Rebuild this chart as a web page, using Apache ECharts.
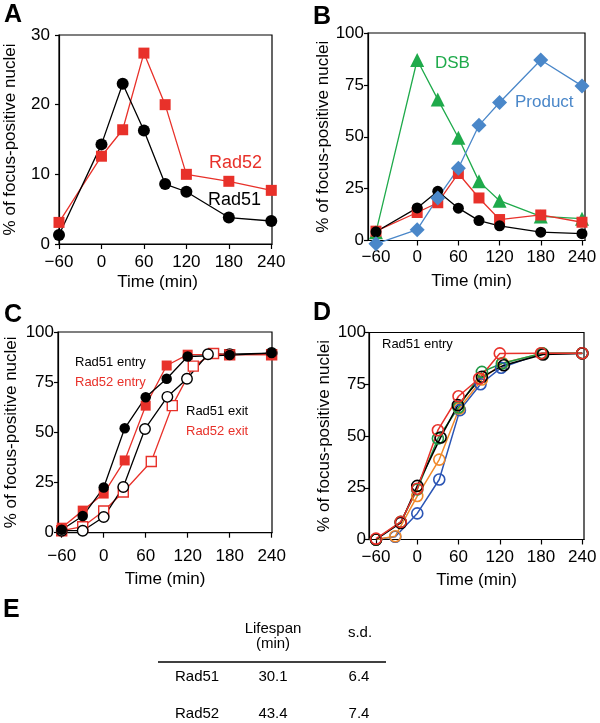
<!DOCTYPE html>
<html><head><meta charset="utf-8">
<script src="https://cdn.jsdelivr.net/npm/echarts@6/dist/echarts.min.js"></script>
<style>html,body{margin:0;padding:0;background:#fff}#c{width:600px;height:723px}</style>
</head><body><div id="c"></div>
<script>
// ---------- data ----------
const timeTicks = [-60, 0, 60, 120, 180, 240];
const ticksA = [0, 10, 20, 30];
const ticks100 = [0, 25, 50, 75, 100];

// Panel A
const timesA = [-60, 0, 30, 60, 90, 120, 180, 240];
const rad51A = [1.3, 14.3, 23.0, 16.3, 8.6, 7.5, 3.8, 3.3];
const rad52A = [3.1, 12.6, 16.4, 27.4, 20.0, 10.0, 9.0, 7.7];

// Panel B
const timesB = [-60, 0, 30, 60, 90, 120, 180, 240];
const dsbB = [4, 87, 68, 49.5, 28.5, 19.2, 11.6, 10.5];
const productB = [-1.6, 5.2, 20.5, 34.8, 55.5, 66.5, 87, 74.5];
const rad52B = [4.5, 13.5, 18.2, 32.3, 20.5, 10.1, 12.3, 8.8];
const rad51B = [4.2, 15.7, 23.7, 15.6, 9.6, 7.1, 4, 3.3];

// Panel C
const timesC = [-60, -30, 0, 30, 60, 90, 120, 180, 240];
const rad51EntryC = [1.5, 8.3, 22.5, 52, 67.5, 76.7, 87.8, 88.5, 89.5];
const rad52EntryC = [2.5, 11, 19.5, 36, 63.3, 83.3, 88.7, 88.7, 88.7];
const timesRad51ExitC = [-60, -30, 0, 28, 59, 91, 119, 149, 180, 240];
const rad51ExitC = [1, 1, 7.8, 22.8, 51.7, 67.7, 76.7, 88.9, 89, 89.5];
const timesRad52ExitC = [-60, -30, 0, 28, 68, 98, 128, 157, 180, 240];
const rad52ExitC = [1, 3, 10.8, 20.3, 35.5, 63.3, 83, 89.3, 88.7, 88.7];

// Panel D (Rad51 entry, five experiments)
const timesDBlack = [-60, -24, 0, 34, 59, 94, 126, 183, 240];
const dBlack = [0, 8, 25.9, 49.3, 64.9, 78.6, 84.2, 89.4, 89.9];
const timesDRed = [-60, -24, 0, 30, 60, 90, 120, 180, 240];
const dRed = [0.4, 8.5, 24.5, 52.8, 69.2, 77.8, 89.9, 90, 90];
const timesDGreen = [-60, -24, 0, 30, 60, 94, 123, 182, 240];
const dGreen = [0, 8.5, 24.2, 48.8, 63.8, 81, 85, 90, 90];
const timesDOrange = [-60, -32, 0, 32, 61, 94, 124, 182, 240];
const dOrange = [0, 1.6, 21, 38.6, 63.3, 77.3, 85.3, 89.9, 90];
const timesDBlue = [-60, -32, 0, 32, 62, 92, 122, 181, 240];
const dBlue = [0, 1.3, 12.6, 29, 62.5, 75, 83, 89.9, 90];

// Panel E table
const tableHeader = ['Lifespan\n(min)', 's.d.'];
const tableRows = ['Rad51', 'Rad52'];
const lifespan = ['30.1', '43.4'];
const sdValues = ['6.4', '7.4'];

// ---------- style ----------
const FONT = '"Liberation Sans", Arial, Helvetica, sans-serif';
const RED = '#e8312a', BLACK = '#000000', GREEN = '#1faa4b', BLUE = '#4a87c9';
const D_GREEN = '#1f9a46', D_ORANGE = '#f0892a', D_BLUE = '#2b55b5';

const zip = (xs, ys) => xs.map((x, i) => [x, ys[i]]);
const fmtTime = v => (v < 0 ? '\u2212' + Math.abs(v) : String(v));

function xAxis(gi, min, max, labelMargin, nameGap, namePadRight) {
  return {
    type: 'value', gridIndex: gi, min, max,
    splitLine: {show: false},
    axisLine: {show: true, onZero: false, lineStyle: {color: '#000', width: 1.2}},
    axisTick: {show: true, customValues: timeTicks, length: 5, lineStyle: {color: '#000', width: 1.2}},
    axisLabel: {customValues: timeTicks, formatter: fmtTime, color: '#000', fontSize: 17, fontFamily: FONT, margin: labelMargin},
    name: 'Time (min)', nameLocation: 'middle', nameGap,
    nameTextStyle: {color: '#000', fontSize: 17, fontFamily: FONT, padding: [0, namePadRight, 0, 0]}
  };
}
function yAxis(gi, max, interval, labelMargin, nameGap) {
  return {
    type: 'value', gridIndex: gi, min: 0, max, interval,
    splitLine: {show: false},
    axisLine: {show: true, onZero: false, lineStyle: {color: '#000', width: 1.2}},
    axisTick: {show: true, length: 4, lineStyle: {color: '#000', width: 1.2}},
    axisLabel: {color: '#000', fontSize: 17, fontFamily: FONT, margin: labelMargin},
    name: '% of focus-positive nuclei', nameLocation: 'middle', nameRotate: 90, nameGap,
    nameTextStyle: {color: '#000', fontSize: 17, fontFamily: FONT}
  };
}
function line(gi, data, color, symbol, size, opts = {}) {
  return Object.assign({
    type: 'line', xAxisIndex: gi, yAxisIndex: gi, data,
    symbol, symbolSize: size, clip: false, animation: false,
    lineStyle: {color, width: 1.3},
    itemStyle: {color, borderColor: color, borderWidth: 0},
    emphasis: {disabled: true}
  }, opts);
}
function open(gi, data, color, symbol, size, fill, lw, bw) {
  return line(gi, data, color, symbol, size, {
    lineStyle: {color, width: lw || 1.3},
    itemStyle: {color: fill, borderColor: color, borderWidth: bw || 1.4}
  });
}
const gridBase = {show: true, borderColor: '#000', borderWidth: 1.2, containLabel: false};

function txt(x, y, text, color, size, bold, align) {
  return {type: 'text', x, y, silent: true,
    style: {text, fill: color, font: (bold ? 'bold ' : '') + size + 'px ' + FONT,
      align: align || 'left', verticalAlign: 'middle'}};
}

const graphics = [
  txt(4, 15, 'A', '#000', 25, true), txt(313, 17, 'B', '#000', 25, true),
  txt(4, 315, 'C', '#000', 25, true), txt(313, 313, 'D', '#000', 25, true),
  txt(3, 610, 'E', '#000', 25, true),
  txt(209, 163, 'Rad52', RED, 18), txt(208, 200, 'Rad51', BLACK, 18),
  txt(435, 63, 'DSB', GREEN, 17), txt(515, 102, 'Product', BLUE, 17),
  txt(75, 362, 'Rad51 entry', BLACK, 13), txt(75, 382, 'Rad52 entry', RED, 13),
  txt(186, 411, 'Rad51 exit', BLACK, 13), txt(186, 431, 'Rad52 exit', RED, 13),
  txt(382, 344, 'Rad51 entry', BLACK, 13),
  // table
  txt(273, 636, tableHeader[0], '#000', 15, false, 'center'),
  txt(360, 633, tableHeader[1], '#000', 15, false, 'center'),
  {type: 'line', silent: true, shape: {x1: 158, y1: 662, x2: 386, y2: 662}, style: {stroke: '#000', lineWidth: 1.3}}
];
tableRows.forEach((r, i) => {
  const y = 677 + i * 37;
  graphics.push(txt(175, y, r, '#000', 15));
  graphics.push(txt(273, y, lifespan[i], '#000', 15, false, 'center'));
  graphics.push(txt(359, y, sdValues[i], '#000', 15, false, 'center'));
});

const T = 'rgba(255,255,255,0)';
const option = {
  backgroundColor: '#fff',
  animation: false,
  textStyle: {fontFamily: FONT},
  grid: [
    Object.assign({left: 59, top: 35, width: 213, height: 209}, gridBase),
    Object.assign({left: 368, top: 33, width: 217, height: 207.5}, gridBase),
    Object.assign({left: 58, top: 332, width: 214, height: 200.7}, gridBase),
    Object.assign({left: 369, top: 332.5, width: 215, height: 207}, gridBase)
  ],
  xAxis: [
    xAxis(0, -60, 241, 10, 30, 16),
    xAxis(1, -71.6, 244.4, 8, 32, 10),
    xAxis(2, -65.3, 240.5, 15, 38, 0),
    xAxis(3, -70.2, 242.5, 9, 32, 0)
  ],
  yAxis: [
    yAxis(0, 30, 10, 9, 40),
    yAxis(1, 100, 25, 4, 36),
    yAxis(2, 100, 25, 4, 38),
    yAxis(3, 100, 25, 3, 36)
  ],
  series: [
    // A
    line(0, zip(timesA, rad52A), RED, 'rect', 11),
    line(0, zip(timesA, rad51A), BLACK, 'circle', 12),
    // B
    line(1, zip(timesB, dsbB), GREEN, 'triangle', 14),
    line(1, zip(timesB, rad52B), RED, 'rect', 11),
    line(1, zip(timesB, rad51B), BLACK, 'circle', 11),
    line(1, zip(timesB, productB), BLUE, 'diamond', 15),
    // C
    open(2, zip(timesRad52ExitC, rad52ExitC), RED, 'rect', 10, '#fff'),
    open(2, zip(timesRad51ExitC, rad51ExitC), BLACK, 'circle', 10.5, '#fff'),
    line(2, zip(timesC, rad52EntryC), RED, 'rect', 10),
    line(2, zip(timesC, rad51EntryC), BLACK, 'circle', 10.5),
    // D
    open(3, zip(timesDBlue, dBlue), D_BLUE, 'circle', 11, T, 1.5, 1.6),
    open(3, zip(timesDOrange, dOrange), D_ORANGE, 'circle', 11, T, 1.5, 1.6),
    open(3, zip(timesDGreen, dGreen), D_GREEN, 'circle', 11, T, 1.5, 1.6),
    open(3, zip(timesDBlack, dBlack), BLACK, 'circle', 11, T, 1.5, 1.6),
    open(3, zip(timesDRed, dRed), RED, 'circle', 11, T, 1.5, 1.6)
  ],
  graphic: graphics
};

const chart = echarts.init(document.getElementById('c'), null, {renderer: 'canvas'});
chart.setOption(option);
</script>
</body></html>
